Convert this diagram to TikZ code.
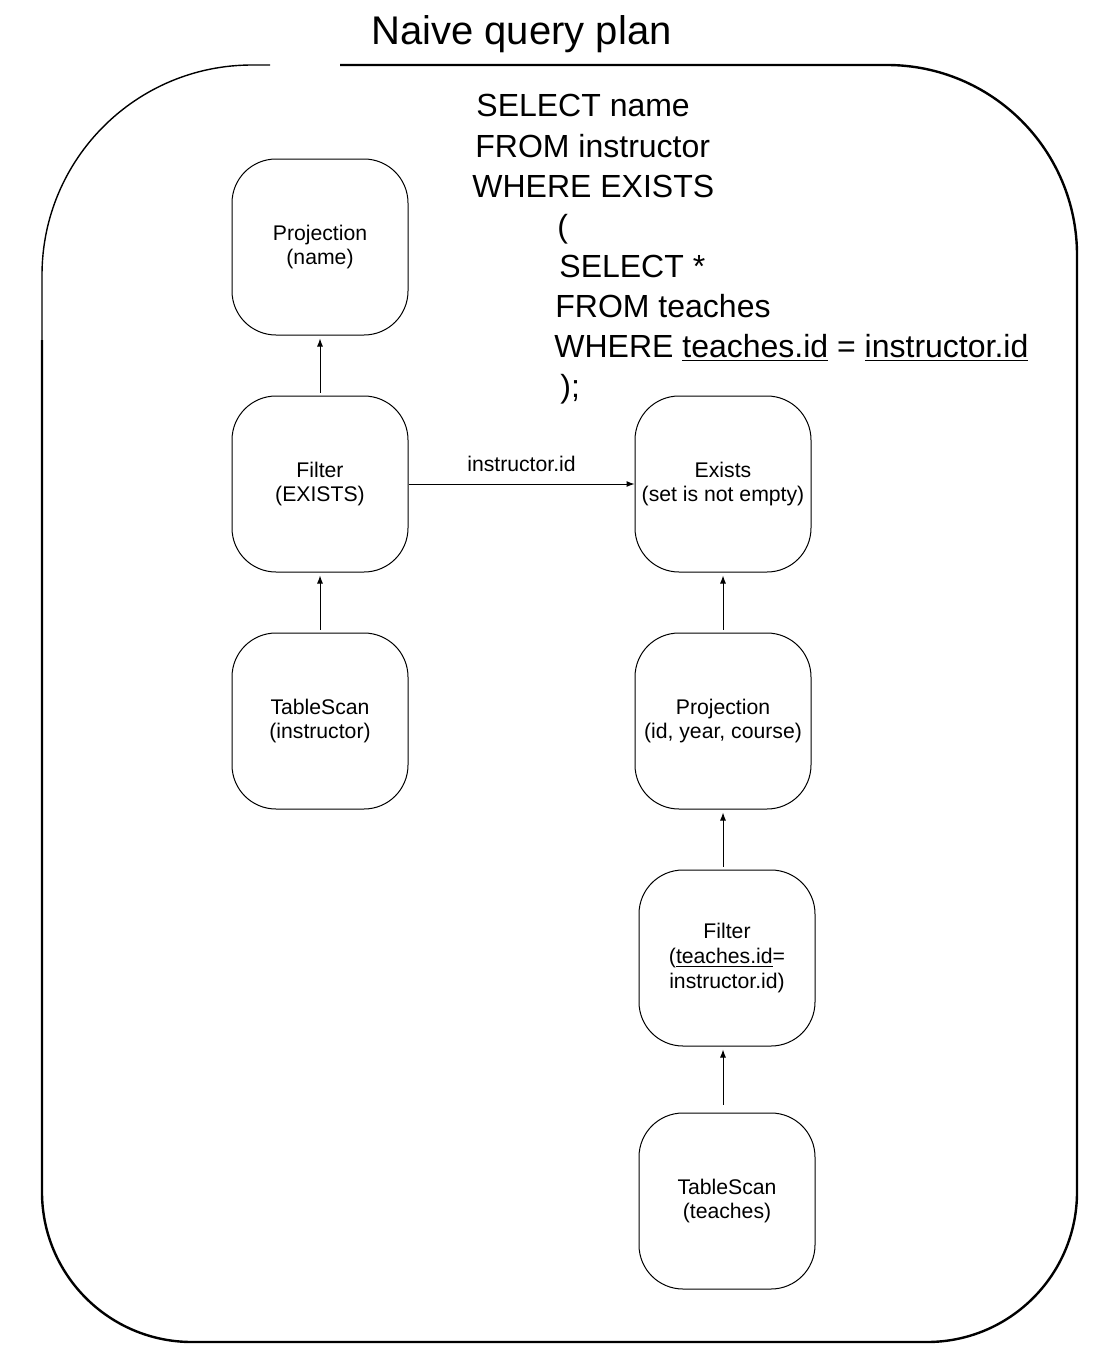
\documentclass[tikz,border=0pt]{standalone}
\usepackage{fontspec}
\setmainfont{Liberation Sans}
\usetikzlibrary{arrows.meta,positioning}

\begin{document}
\begin{tikzpicture}[x=0.5pt,y=-0.5pt,
    op/.style={draw,line width=0.5pt,rounded corners=22pt,minimum width=88pt,minimum height=88pt,
      inner sep=2pt,align=center,font=\fontsize{10.6}{12.4}\selectfont},
    arr/.style={-{Latex[length=4pt,width=3pt]},line width=0.5pt},
    sql/.style={anchor=base west,inner sep=0pt,font=\fontsize{16}{20}\selectfont}]
    \useasboundingbox (0,0) rectangle (1106,1370);

    % Title
    \node[anchor=base west,inner sep=0pt,font=\fontsize{20}{24}\selectfont] (title) at (371,45) {Naive query plan};

    % Outer frame
    \draw[line width=1.2pt,rounded corners=95pt] (340,65) -- (1077,65) -- (1077,900);
    \draw[line width=1.2pt,rounded corners=75pt] (1077,900) -- (1077,1342) -- (42,1342) -- (42,340);
    \draw[line width=0.7pt,rounded corners=105pt] (42,340) -- (42,65) -- (270,65);

    % Query text
    \node[sql] (sql1) at (476,117) {SELECT name};
    \node[sql] (sql2) at (475,157) {FROM instructor};
    \node[sql] (sql3) at (472,197) {WHERE EXISTS};
    \node[sql] (sql4) at (557,237) {(};
    \node[sql] (sql5) at (559,277) {SELECT *};
    \node[sql] (sql6) at (555,317) {FROM teaches};
    \node[sql] (sql7) at (554,357) {WHERE \underline{teaches.id} = \underline{instructor.id}};
    \node[sql] (sql8) at (560,397) {);};

    % Outer query
    \node[op] (projname) at (320,247) {Projection\\(name)};
    \node[op] (filtex) at (320,484) {Filter\\(EXISTS)};
    \node[op] (scaninst) at (320,721) {TableScan\\(instructor)};

    % Subquery
    \node[op] (exists) at (723,484) {Exists\\(set is not empty)};
    \node[op] (projid) at (723,721) {Projection\\(id, year, course)};
    \node[op] (filtid) at (727,958) {Filter\\(\underline{teaches.id}=\\instructor.id)};
    \node[op] (scanteach) at (727,1201) {TableScan\\(teaches)};

    % Data flow
    \draw[arr,shorten <=1.5pt,shorten >=1.5pt] (filtex) -- (projname);
    \draw[arr,shorten <=1.5pt,shorten >=1.5pt] (scaninst) -- (filtex);
    \draw[arr] (filtex) -- node[above=2.5pt,font=\fontsize{10.6}{12.4}\selectfont] (lblid) {instructor.id} (exists);
    \draw[arr,shorten <=1.5pt,shorten >=1.5pt] (projid) -- (exists);
    \draw[arr,shorten <=1.5pt,shorten >=1.5pt] (filtid.north -| projid) -- (projid);
    \draw[arr,shorten <=4pt,shorten >=1.5pt] (scanteach.north -| projid) -- (filtid.south -| projid);
\end{tikzpicture}
\end{document}
